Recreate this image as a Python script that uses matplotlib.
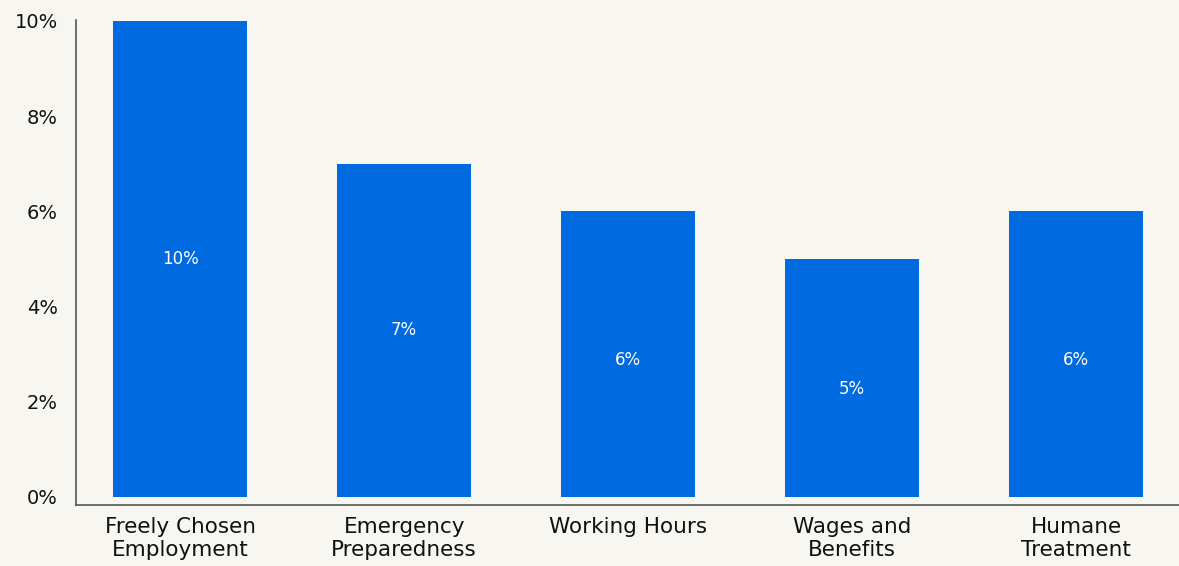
import matplotlib
matplotlib.use("Agg")
import matplotlib.pyplot as plt
from matplotlib.ticker import FuncFormatter

categories = ["Freely Chosen\nEmployment", "Emergency\nPreparedness", "Working Hours",
              "Wages and\nBenefits", "Humane\nTreatment"]
values = [10, 7, 6, 5, 6]
yticks = [0, 2, 4, 6, 8, 10]

# where the value labels sit inside the bars (data units), as in the original
label_y = [5.0, 3.5, 2.88, 2.27, 2.88]

bg = "#f7f6f1"
bar_color = "#006be0"

plt.rcParams['font.family'] = ['DejaVu Sans']

fig = plt.figure(figsize=(11.79, 5.66), dpi=100, facecolor=bg)
ax = fig.add_axes([0.0645, 0.1078, 0.9355, 0.8569], facecolor=bg)

x = list(range(len(categories)))
bars = ax.bar(x, values, width=0.6, color=bar_color)
for xi, v, ly in zip(x, values, label_y):
    ax.text(xi, ly, f"{v}%", color="white", ha="center", va="center", fontsize=12)

ax.set_xlim(-0.465, 4.46)
ax.set_ylim(-0.17, 10.02)
ax.set_yticks(yticks)
ax.yaxis.set_major_formatter(FuncFormatter(lambda v, p: f"{v:.0f}%"))
ax.set_xticks(x)
ax.set_xticklabels(categories, fontsize=15.5, linespacing=1.2)
ax.tick_params(axis="y", length=0, pad=13, labelsize=14, colors="#111111")
ax.tick_params(axis="x", length=0, pad=8.5, colors="#111111")

for s in ["top", "right"]:
    ax.spines[s].set_visible(False)
for s in ["left", "bottom"]:
    ax.spines[s].set_color("#555555")
    ax.spines[s].set_linewidth(1.2)

fig.savefig("out.png", dpi=100, facecolor=bg)
